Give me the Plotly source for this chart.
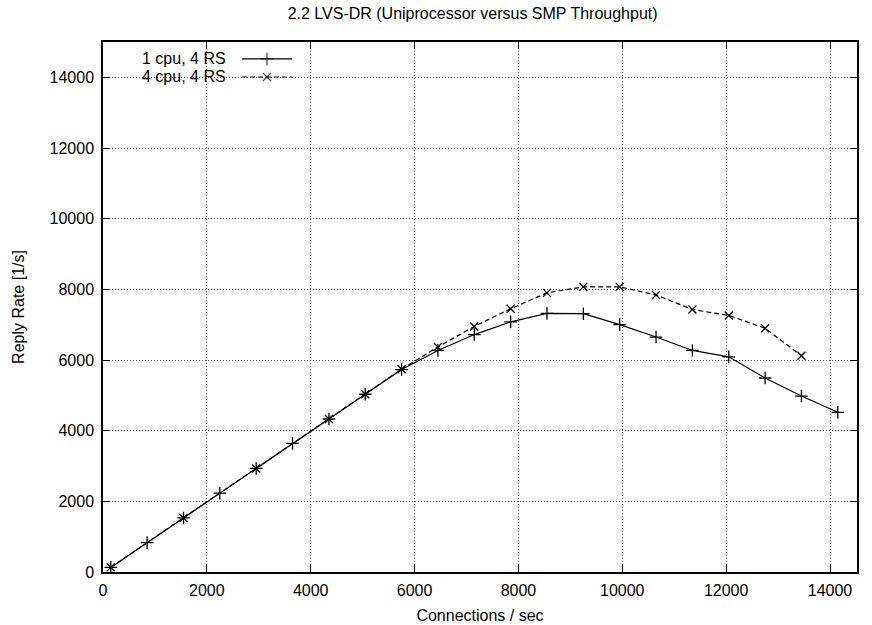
import plotly.graph_objects as go

# Data
conn_1cpu = [150, 850, 1550, 2250, 2950, 3650, 4350, 5050, 5750, 6450, 7150,
             7850, 8550, 9250, 9950, 10650, 11350, 12050, 12750, 13450, 14150]
reply_1cpu = [130, 830, 1530, 2230, 2930, 3640, 4330, 5030, 5730, 6270, 6720,
              7080, 7320, 7310, 7000, 6650, 6270, 6090, 5490, 4980, 4520]

conn_4cpu = [150, 1550, 2950, 4350, 5050, 5750, 6450, 7150, 7850, 8550, 9250,
             9950, 10650, 11350, 12050, 12750, 13450]
reply_4cpu = [130, 1530, 2930, 4330, 5030, 5740, 6370, 6950, 7450, 7900, 8070,
              8070, 7840, 7430, 7260, 6900, 6120]

series_names = ["1 cpu, 4 RS", "4 cpu, 4 RS"]
x_ticks = [0, 2000, 4000, 6000, 8000, 10000, 12000, 14000]
y_ticks = [0, 2000, 4000, 6000, 8000, 10000, 12000, 14000]
x_tick_text = [str(v) for v in x_ticks]
y_tick_text = [str(v) for v in y_ticks]

FONT = "Liberation Sans, Arial, Helvetica, sans-serif"
FS = 16
DASH = "5px,3px"

fig = go.Figure()

fig.add_trace(go.Scatter(
    x=conn_1cpu, y=reply_1cpu, mode="lines+markers", name=series_names[0],
    line=dict(color="black", width=1.2),
    marker=dict(symbol="cross-thin", size=9, line=dict(color="black", width=1.3)),
    showlegend=False))
fig.add_trace(go.Scatter(
    x=conn_4cpu, y=reply_4cpu, mode="lines+markers", name=series_names[1],
    line=dict(color="black", width=1.2, dash=DASH),
    marker=dict(symbol="x-thin", size=8, line=dict(color="black", width=1.3)),
    showlegend=False))

# gnuplot-style key: text on the left, line sample on the right
key_y = [0.968, 0.934]
key_dash = ["solid", DASH]
key_sym = ["cross-thin", "x-thin"]
key_size = [9, 8]
for i in range(2):
    fig.add_trace(go.Scatter(
        x=[0.1843, 0.2175, 0.2507], y=[key_y[i]] * 3, xaxis="x2", yaxis="y2",
        mode="lines+markers", showlegend=False, hoverinfo="skip",
        line=dict(color="black", width=1.2, dash=key_dash[i]),
        marker=dict(symbol=key_sym[i], size=[0, key_size[i], 0],
                    line=dict(color="black", width=1.3))))
    fig.add_annotation(x=0.1658, y=key_y[i], xref="paper", yref="paper",
                       text=series_names[i], showarrow=False, xanchor="right",
                       yanchor="middle", font=dict(family=FONT, size=FS, color="black"))

# hide grid behind key row
fig.add_shape(type="rect", xref="paper", yref="paper", x0=0.012, x1=0.261,
              y0=0.919, y1=0.948, fillcolor="white", line=dict(width=0), layer="between")

axis_common = dict(
    showline=True, linecolor="black", linewidth=1.5, mirror="allticks",
    ticks="inside", ticklen=7, tickcolor="black", tickwidth=1,
    showgrid=True, gridcolor="#555", griddash="1px,2px", gridwidth=1,
    zeroline=False, automargin=False,
    tickfont=dict(family=FONT, size=FS, color="black"),
)

fig.update_layout(
    width=872, height=625,
    margin=dict(l=103, r=15, t=42, b=53),
    paper_bgcolor="white", plot_bgcolor="white",
    font=dict(family=FONT, size=FS, color="black"),
    title=dict(text="2.2 LVS-DR (Uniprocessor versus SMP Throughput)",
               x=0.542, xanchor="center", y=0.979, yanchor="middle",
               font=dict(family=FONT, size=FS, color="black")),
    xaxis=dict(range=[0, 14520], tickvals=x_ticks, ticktext=x_tick_text, **axis_common,
               ticklabelstandoff=3,
               title=dict(text="Connections / sec", standoff=12,
                          font=dict(family=FONT, size=FS))),
    yaxis=dict(range=[0, 15000], tickvals=y_ticks, ticktext=y_tick_text, **axis_common,
               ticklabelstandoff=4,
               title=dict(text="Reply Rate [1/s]", standoff=21,
                          font=dict(family=FONT, size=FS))),
    xaxis2=dict(range=[0, 1], overlaying="x", visible=False, fixedrange=True),
    yaxis2=dict(range=[0, 1], overlaying="y", visible=False, fixedrange=True),
)

fig.write_html("out.html")
